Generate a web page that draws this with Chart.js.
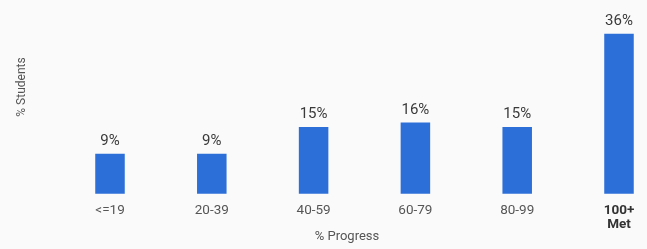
<!DOCTYPE html>
<html>
<head>
<meta charset="utf-8">
<script src="https://cdn.jsdelivr.net/npm/chart.js@4/dist/chart.umd.min.js"></script>
<style>
  html, body { margin: 0; padding: 0; background: #fafafa; }
  #wrap { width: 647px; height: 249px; position: relative; }
</style>
</head>
<body>
<div id="wrap"><canvas id="progressChart"></canvas></div>
<script>
/* % Progress distribution — bar chart */

const CATEGORIES = ['<=19', '20-39', '40-59', '60-79', '80-99', ['100+', 'Met']];
const STUDENT_PCT = [9, 9, 15, 16, 15, 36];
const Y_TITLE = '% Students';
const X_TITLE = '% Progress';

const BAR_BLUE = '#2C6FD9';
const TEXT_GREY = '#555';

/* ── PLUGIN: background, value labels, axis titles ─────────── */
const decorations = {
  id: 'decorations',
  beforeDraw(chart) {
    const { ctx, width, height } = chart;
    ctx.save();
    ctx.fillStyle = '#fafafa';
    ctx.fillRect(0, 0, width, height);
    ctx.restore();
  },
  afterDatasetsDraw(chart) {
    const { ctx } = chart;
    const meta = chart.getDatasetMeta(0);
    ctx.save();
    ctx.fillStyle = '#3a3a3a';
    ctx.font = '15px Roboto, sans-serif';
    ctx.textAlign = 'center';
    ctx.textBaseline = 'bottom';
    meta.data.forEach((bar, i) => {
      ctx.fillText(STUDENT_PCT[i] + '%', bar.x, bar.y - 5);
    });

    ctx.fillStyle = TEXT_GREY;
    ctx.font = '12px Roboto, sans-serif';
    ctx.textBaseline = 'middle';
    ctx.translate(22, 87);
    ctx.rotate(-Math.PI / 2);
    ctx.fillText(Y_TITLE, 0, 0);
    ctx.restore();

    ctx.save();
    ctx.fillStyle = TEXT_GREY;
    ctx.font = '13px Roboto, sans-serif';
    ctx.textAlign = 'center';
    ctx.textBaseline = 'middle';
    ctx.fillText(X_TITLE, 347, 237);
    ctx.restore();
  }
};

const ctx = document.getElementById('progressChart').getContext('2d');
new Chart(ctx, {
  type: 'bar',
  data: {
    labels: CATEGORIES,
    datasets: [{
      data: STUDENT_PCT,
      backgroundColor: BAR_BLUE,
      borderWidth: 0,
      categoryPercentage: 1,
      barPercentage: 0.29,
      clip: false
    }]
  },
  options: {
    responsive: true,
    maintainAspectRatio: false,
    animation: false,
    layout: { padding: { left: 110, right: 28, top: 16, bottom: 7 } },
    plugins: {
      legend: { display: false },
      tooltip: { enabled: false }
    },
    scales: {
      x: {
        offset: false,
        grid: { display: false, drawTicks: false },
        border: { display: false },
        ticks: {
          padding: 10,
          color: ctx => ctx.index === 5 ? '#333' : TEXT_GREY,
          font: ctx => ({
            size: 13.5,
            family: 'Roboto, sans-serif',
            weight: ctx.index === 5 ? 'bold' : 'normal',
            lineHeight: 1.05
          }),
          autoSkip: false,
          maxRotation: 0
        }
      },
      y: {
        display: false,
        min: 0,
        max: 40
      }
    }
  },
  plugins: [decorations]
});
</script>
</body>
</html>
